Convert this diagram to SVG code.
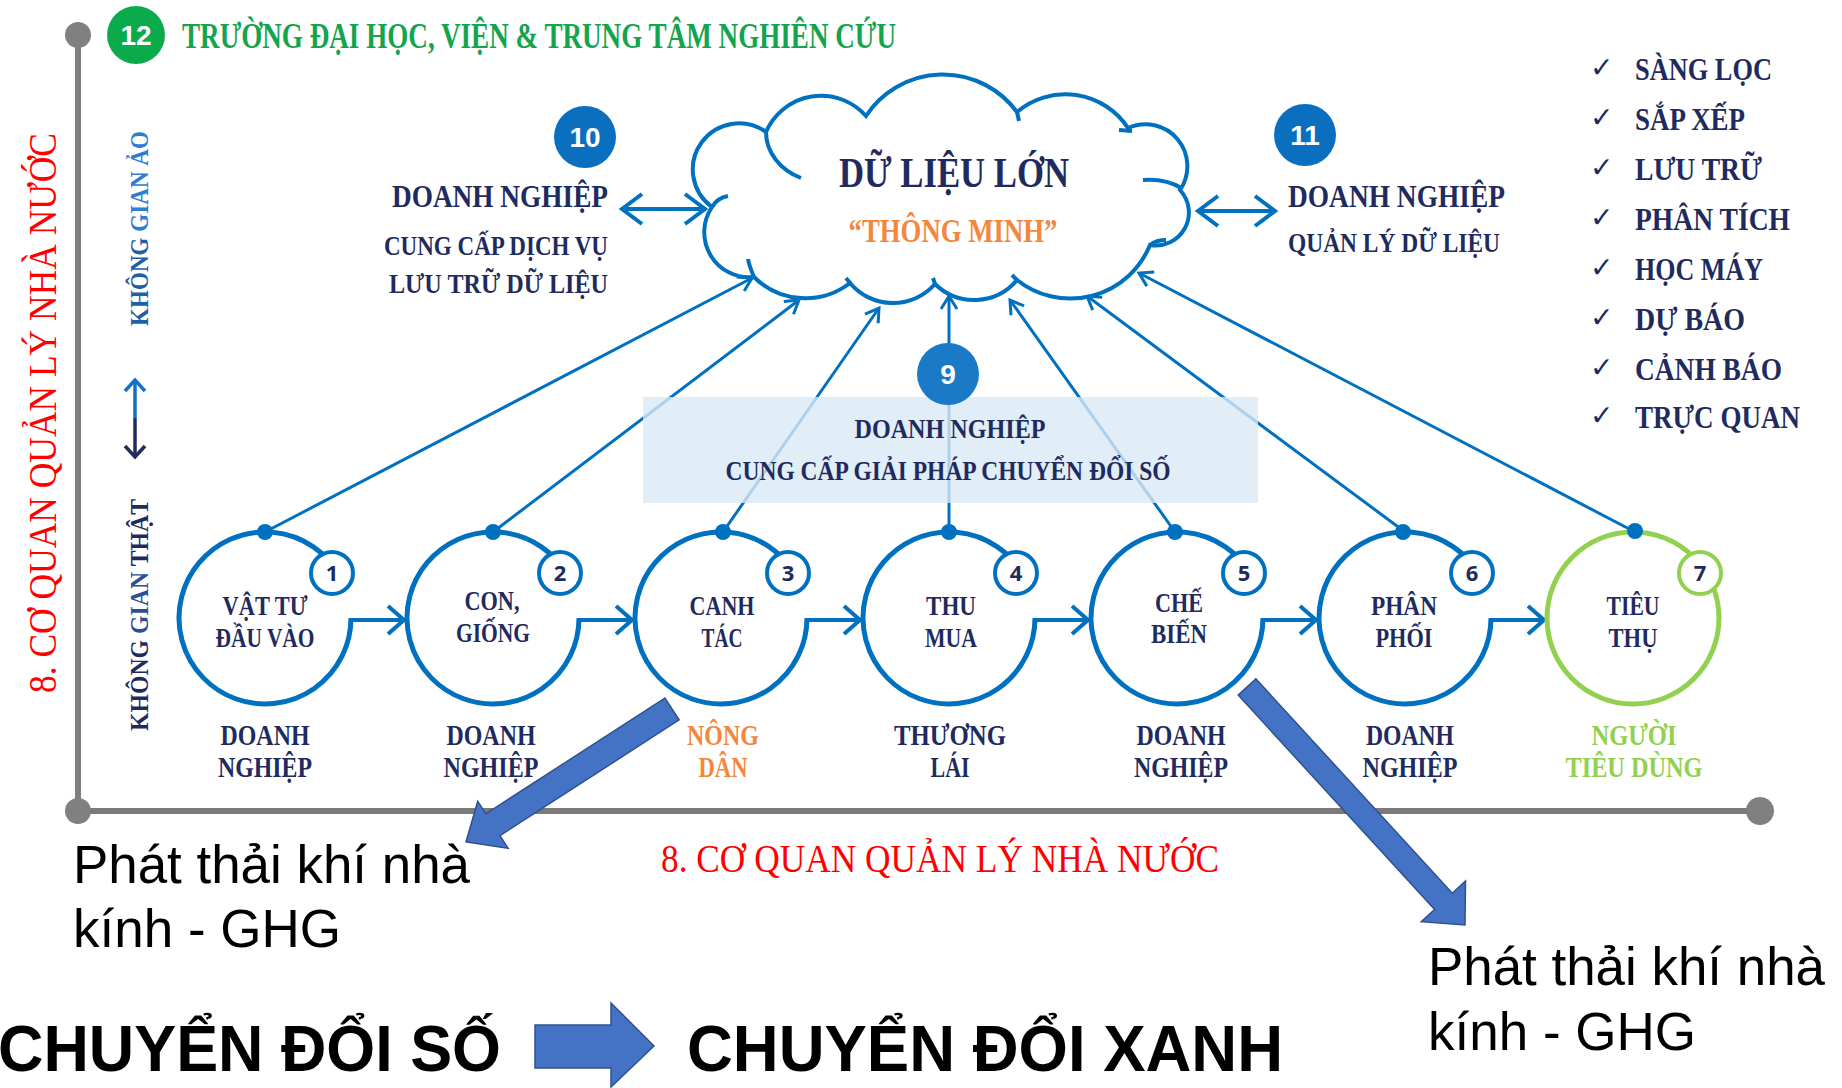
<svg xmlns="http://www.w3.org/2000/svg" width="1842" height="1088" viewBox="0 0 1842 1088">
<style>
.t{font-family:"Liberation Serif","DejaVu Serif",serif;font-weight:bold;fill:#1F2B5E;}
.m{text-anchor:middle;}
.s{font-family:"Liberation Sans",Arial,sans-serif;}
.ring{fill:none;stroke:#0070C0;stroke-width:5;}
.badge{fill:#fff;stroke:#0070C0;stroke-width:4;}
.num{font-family:"Open Sans","Liberation Sans",sans-serif;font-weight:bold;font-size:22px;fill:#1F2B5E;text-anchor:middle;}
.dot{fill:#0070C0;}
.conn{stroke:#0070C0;stroke-width:3;fill:none;}
.flow{stroke:#0070C0;stroke-width:4;fill:none;}
.blk{fill:#4472C4;stroke:#2F528F;stroke-width:1.5;}
.lab{font-size:29px;}
.in{font-size:27px;}
.chk{font-size:31px;}
</style>
<defs>
<marker id="ca" viewBox="-16 -12 20 24" refX="0" refY="0" markerWidth="20" markerHeight="24" markerUnits="userSpaceOnUse" orient="auto-start-reverse"><path d="M-13,-8 L0,0 L-13,8" fill="none" stroke="#0070C0" stroke-width="3"/></marker>
<marker id="fa" viewBox="-20 -18 26 36" refX="0" refY="0" markerWidth="26" markerHeight="36" markerUnits="userSpaceOnUse" orient="auto-start-reverse"><path d="M-16,-14 L0,0 L-16,14" fill="none" stroke="#0070C0" stroke-width="4"/></marker>
<marker id="da" viewBox="-24 -18 30 36" refX="0" refY="0" markerWidth="30" markerHeight="36" markerUnits="userSpaceOnUse" orient="auto-start-reverse"><path d="M-20,-15 L0,0 L-20,15" fill="none" stroke="#0070C0" stroke-width="4"/></marker>
<marker id="va" viewBox="-14 -14 18 28" refX="0" refY="0" markerWidth="18" markerHeight="28" markerUnits="userSpaceOnUse" orient="auto"><path d="M-11,-10 L0,0 L-11,10" fill="none" stroke="#1570C4" stroke-width="3.5"/></marker>
<marker id="vn" viewBox="-14 -14 18 28" refX="0" refY="0" markerWidth="18" markerHeight="28" markerUnits="userSpaceOnUse" orient="auto"><path d="M-11,-10 L0,0 L-11,10" fill="none" stroke="#1F2B5E" stroke-width="3.5"/></marker>
</defs>
<rect width="1842" height="1088" fill="#fff"/>

<g id="axes">
<line x1="78" y1="35" x2="78" y2="811" stroke="#808080" stroke-width="6"/>
<line x1="78" y1="811" x2="1760" y2="811" stroke="#7A7A7A" stroke-width="6"/>
<circle cx="78" cy="35" r="13" fill="#808080"/>
<circle cx="78" cy="811" r="13" fill="#808080"/>
<circle cx="1760" cy="811" r="14" fill="#808080"/>
</g>

<g id="node12">
<circle cx="136" cy="35" r="29" fill="#0BAA4B"/>
<text x="136" y="45" class="s" font-size="28" font-weight="bold" fill="#fff" text-anchor="middle">12</text>
<text x="182" y="48" class="t" font-size="35" style="fill:#14A44D" textLength="714" lengthAdjust="spacingAndGlyphs">TRƯỜNG ĐẠI HỌC, VIỆN &amp; TRUNG TÂM NGHIÊN CỨU</text>
</g>

<g id="side-labels">
<text transform="translate(56,693) rotate(-90)" class="t" font-size="41" style="fill:#FF0000;font-weight:normal" textLength="560" lengthAdjust="spacingAndGlyphs">8. CƠ QUAN QUẢN LÝ NHÀ NƯỚC</text>
<text transform="translate(148,326) rotate(-90)" class="t" font-size="26" textLength="195" lengthAdjust="spacingAndGlyphs"><tspan style="fill:#1F5FA8">KHÔNG </tspan><tspan style="fill:#2E7DD1">GIAN ẢO</tspan></text>
<text transform="translate(148,731) rotate(-90)" class="t" font-size="26" textLength="232" lengthAdjust="spacingAndGlyphs"><tspan>KHÔNG </tspan><tspan style="fill:#2A4F96">GIAN </tspan><tspan>THẬT</tspan></text>
<line x1="135" y1="418" x2="135" y2="380" stroke="#1570C4" stroke-width="3.5" marker-end="url(#va)"/>
<line x1="135" y1="418" x2="135" y2="457" stroke="#1F2B5E" stroke-width="3.5" marker-end="url(#vn)"/>
<text x="661" y="872" class="t" font-size="39" style="fill:#FF0000;font-weight:normal" textLength="558" lengthAdjust="spacingAndGlyphs">8. CƠ QUAN QUẢN LÝ NHÀ NƯỚC</text>
</g>

<g id="connectors">
<line class="conn" x1="265" y1="532" x2="752" y2="278" marker-end="url(#ca)"/>
<line class="conn" x1="493" y1="532" x2="799" y2="300" marker-end="url(#ca)"/>
<line class="conn" x1="723" y1="532" x2="879" y2="308" marker-end="url(#ca)"/>
<line class="conn" x1="949" y1="532" x2="949" y2="296" marker-end="url(#ca)"/>
<line class="conn" x1="1175" y1="532" x2="1010" y2="300" marker-end="url(#ca)"/>
<line class="conn" x1="1405" y1="532" x2="1087" y2="296" marker-end="url(#ca)"/>
<line class="conn" x1="1635" y1="532" x2="1139" y2="273" marker-end="url(#ca)"/>
<line class="flow" x1="622" y1="209" x2="705" y2="209" marker-start="url(#da)" marker-end="url(#da)"/>
<line class="flow" x1="1198" y1="211" x2="1275" y2="211" marker-start="url(#da)" marker-end="url(#da)"/>
<line class="flow" x1="350" y1="620" x2="404" y2="620" marker-end="url(#fa)"/>
<line class="flow" x1="578" y1="620" x2="632" y2="620" marker-end="url(#fa)"/>
<line class="flow" x1="806" y1="620" x2="860" y2="620" marker-end="url(#fa)"/>
<line class="flow" x1="1034" y1="620" x2="1088" y2="620" marker-end="url(#fa)"/>
<line class="flow" x1="1262" y1="620" x2="1316" y2="620" marker-end="url(#fa)"/>
<line class="flow" x1="1490" y1="620" x2="1544" y2="620" marker-end="url(#fa)"/>
</g>

<g id="cloud">
<path d="M712,207 A46,46 0 0 1 766,132 A60,60 0 0 1 866,116 A92,92 0 0 1 1017,112 A75,75 0 0 1 1128,128 A42,42 0 0 1 1180,190 A33,33 0 0 1 1150,245 A86,86 0 0 1 1017,280 A56,56 0 0 1 935,284 A56,56 0 0 1 850,283 A73,73 0 0 1 754,277 A45,45 0 0 1 712,207 Z" fill="#fff" stroke="#0070C0" stroke-width="4"/>
<path d="M766,132 C766,152 780,170 801,178 M712,207 C716,200 722,197 728,196 M1132,131 L1119,130 M1181,188 C1170,181 1157,179 1143,180 M1150,245 C1155,241 1160,240 1166,240 M1017,280 L1012,275 M754,277 C751,270 749,265 748,259 M935,284 L933,278 M850,283 L846,278 M1017,112 L1019,121" fill="none" stroke="#0070C0" stroke-width="4"/>
<text x="954" y="187" class="t m" font-size="42" textLength="230" lengthAdjust="spacingAndGlyphs">DỮ LIỆU LỚN</text>
<text x="953" y="242" class="t m" font-size="34" style="fill:#F4873B" textLength="209" lengthAdjust="spacingAndGlyphs">“THÔNG MINH”</text>
</g>

<g id="node10">
<circle cx="585" cy="137" r="31" fill="#0B6FBF"/>
<text x="585" y="147" class="s" font-size="28" font-weight="bold" fill="#fff" text-anchor="middle">10</text>
<text x="392" y="207" class="t" font-size="31" textLength="216" lengthAdjust="spacingAndGlyphs">DOANH NGHIỆP</text>
<text x="384" y="255" class="t" font-size="28" textLength="224" lengthAdjust="spacingAndGlyphs">CUNG CẤP DỊCH VỤ</text>
<text x="389" y="293" class="t" font-size="28" textLength="219" lengthAdjust="spacingAndGlyphs">LƯU TRỮ DỮ LIỆU</text>
</g>

<g id="node11">
<circle cx="1305" cy="135" r="31" fill="#0B6FBF"/>
<text x="1305" y="145" class="s" font-size="28" font-weight="bold" fill="#fff" text-anchor="middle">11</text>
<text x="1288" y="207" class="t" font-size="31" textLength="217" lengthAdjust="spacingAndGlyphs">DOANH NGHIỆP</text>
<text x="1288" y="252" class="t" font-size="28" textLength="212" lengthAdjust="spacingAndGlyphs">QUẢN LÝ DỮ LIỆU</text>
</g>

<g id="checklist">
<g font-family="DejaVu Sans,sans-serif" font-size="28" fill="#1F2B5E">
<text x="1590" y="77">✓</text><text x="1590" y="127">✓</text><text x="1590" y="177">✓</text><text x="1590" y="227">✓</text>
<text x="1590" y="277">✓</text><text x="1590" y="327">✓</text><text x="1590" y="377">✓</text><text x="1590" y="425">✓</text>
</g>
<text x="1635" y="80" class="t chk" textLength="137" lengthAdjust="spacingAndGlyphs">SÀNG LỌC</text>
<text x="1635" y="130" class="t chk" textLength="110" lengthAdjust="spacingAndGlyphs">SẮP XẾP</text>
<text x="1635" y="180" class="t chk" textLength="127" lengthAdjust="spacingAndGlyphs">LƯU TRỮ</text>
<text x="1635" y="230" class="t chk" textLength="155" lengthAdjust="spacingAndGlyphs">PHÂN TÍCH</text>
<text x="1635" y="280" class="t chk" textLength="128" lengthAdjust="spacingAndGlyphs">HỌC MÁY</text>
<text x="1635" y="330" class="t chk" textLength="110" lengthAdjust="spacingAndGlyphs">DỰ BÁO</text>
<text x="1635" y="380" class="t chk" textLength="147" lengthAdjust="spacingAndGlyphs">CẢNH BÁO</text>
<text x="1635" y="428" class="t chk" textLength="165" lengthAdjust="spacingAndGlyphs">TRỰC QUAN</text>
</g>

<g id="node9">
<rect x="643" y="397" width="615" height="106" fill="#DAE8F5" fill-opacity="0.8"/>
<circle cx="948" cy="374" r="31" fill="#1A7AC7"/>
<text x="948" y="384" class="s" font-size="28" font-weight="bold" fill="#fff" text-anchor="middle">9</text>
<text x="950" y="438" class="t m" font-size="28" textLength="191" lengthAdjust="spacingAndGlyphs">DOANH NGHIỆP</text>
<text x="948" y="480" class="t m" font-size="28" textLength="445" lengthAdjust="spacingAndGlyphs">CUNG CẤP GIẢI PHÁP CHUYỂN ĐỔI SỐ</text>
</g>

<g id="node1">
<path class="ring" d="M351,618 A86,86 0 1 1 339.5,575"/>
<circle class="dot" cx="265" cy="532" r="8"/>
<circle class="badge" cx="332" cy="573" r="21"/><text class="num" x="332" y="581">1</text>
<text x="265" y="615" class="t m in" textLength="85" lengthAdjust="spacingAndGlyphs">VẬT TƯ</text>
<text x="265" y="647" class="t m in" textLength="99" lengthAdjust="spacingAndGlyphs">ĐẦU VÀO</text>
<text x="265" y="745" class="t m lab" textLength="89" lengthAdjust="spacingAndGlyphs">DOANH</text>
<text x="265" y="777" class="t m lab" textLength="94" lengthAdjust="spacingAndGlyphs">NGHIỆP</text>
</g>
<g id="node2">
<path class="ring" d="M579,618 A86,86 0 1 1 567.5,575"/>
<circle class="dot" cx="493" cy="532" r="8"/>
<circle class="badge" cx="560" cy="573" r="21"/><text class="num" x="560" y="581">2</text>
<text x="492" y="610" class="t m in" textLength="55" lengthAdjust="spacingAndGlyphs">CON,</text>
<text x="493" y="642" class="t m in" textLength="74" lengthAdjust="spacingAndGlyphs">GIỐNG</text>
<text x="491" y="745" class="t m lab" textLength="89" lengthAdjust="spacingAndGlyphs">DOANH</text>
<text x="491" y="777" class="t m lab" textLength="95" lengthAdjust="spacingAndGlyphs">NGHIỆP</text>
</g>
<g id="node3">
<path class="ring" d="M807,618 A86,86 0 1 1 795.5,575"/>
<circle class="dot" cx="723" cy="532" r="8"/>
<circle class="badge" cx="788" cy="573" r="21"/><text class="num" x="788" y="581">3</text>
<text x="722" y="615" class="t m in" textLength="65" lengthAdjust="spacingAndGlyphs">CANH</text>
<text x="722" y="647" class="t m in" textLength="41" lengthAdjust="spacingAndGlyphs">TÁC</text>
<text x="723" y="745" class="t m lab" style="fill:#F4873B" textLength="72" lengthAdjust="spacingAndGlyphs">NÔNG</text>
<text x="723" y="777" class="t m lab" style="fill:#F4873B" textLength="49" lengthAdjust="spacingAndGlyphs">DÂN</text>
</g>
<g id="node4">
<path class="ring" d="M1035,618 A86,86 0 1 1 1023.5,575"/>
<circle class="dot" cx="949" cy="532" r="8"/>
<circle class="badge" cx="1016" cy="573" r="21"/><text class="num" x="1016" y="581">4</text>
<text x="951" y="615" class="t m in" textLength="50" lengthAdjust="spacingAndGlyphs">THU</text>
<text x="951" y="647" class="t m in" textLength="52" lengthAdjust="spacingAndGlyphs">MUA</text>
<text x="950" y="745" class="t m lab" textLength="112" lengthAdjust="spacingAndGlyphs">THƯƠNG</text>
<text x="950" y="777" class="t m lab" textLength="39" lengthAdjust="spacingAndGlyphs">LÁI</text>
</g>
<g id="node5">
<path class="ring" d="M1263,618 A86,86 0 1 1 1251.5,575"/>
<circle class="dot" cx="1175" cy="532" r="8"/>
<circle class="badge" cx="1244" cy="573" r="21"/><text class="num" x="1244" y="581">5</text>
<text x="1179" y="612" class="t m in" textLength="48" lengthAdjust="spacingAndGlyphs">CHẾ</text>
<text x="1179" y="643" class="t m in" textLength="56" lengthAdjust="spacingAndGlyphs">BIẾN</text>
<text x="1181" y="745" class="t m lab" textLength="89" lengthAdjust="spacingAndGlyphs">DOANH</text>
<text x="1181" y="777" class="t m lab" textLength="94" lengthAdjust="spacingAndGlyphs">NGHIỆP</text>
</g>
<g id="node6">
<path class="ring" d="M1491,618 A86,86 0 1 1 1479.5,575"/>
<circle class="dot" cx="1403" cy="532" r="8"/>
<circle class="badge" cx="1472" cy="573" r="21"/><text class="num" x="1472" y="581">6</text>
<text x="1404" y="615" class="t m in" textLength="66" lengthAdjust="spacingAndGlyphs">PHÂN</text>
<text x="1404" y="647" class="t m in" textLength="57" lengthAdjust="spacingAndGlyphs">PHỐI</text>
<text x="1410" y="745" class="t m lab" textLength="88" lengthAdjust="spacingAndGlyphs">DOANH</text>
<text x="1410" y="777" class="t m lab" textLength="95" lengthAdjust="spacingAndGlyphs">NGHIỆP</text>
</g>
<g id="node7">
<circle cx="1633" cy="618" r="86" fill="none" stroke="#92D050" stroke-width="5"/>
<circle class="dot" cx="1635" cy="531" r="8"/>
<circle cx="1700" cy="573" r="21" fill="#fff" stroke="#92D050" stroke-width="4"/><text class="num" x="1700" y="581">7</text>
<text x="1633" y="615" class="t m in" textLength="53" lengthAdjust="spacingAndGlyphs">TIÊU</text>
<text x="1633" y="647" class="t m in" textLength="49" lengthAdjust="spacingAndGlyphs">THỤ</text>
<text x="1634" y="745" class="t m lab" style="fill:#92D050" textLength="85" lengthAdjust="spacingAndGlyphs">NGƯỜI</text>
<text x="1634" y="777" class="t m lab" style="fill:#92D050" textLength="137" lengthAdjust="spacingAndGlyphs">TIÊU DÙNG</text>
</g>

<g id="emissions">
<polygon class="blk" points="664.9,698.1 485.9,813.8 477.7,801.2 466,842 508.1,848.2 500,835.6 679.1,719.9"/>
<polygon class="blk" points="1238.2,695.1 1434.6,909.5 1421.3,921.7 1465,925 1465.5,881.1 1452.3,893.3 1255.9,678.9"/>
<text x="73" y="883" class="s" font-size="53" fill="#000" textLength="397" lengthAdjust="spacingAndGlyphs">Phát thải khí nhà</text>
<text x="73" y="947" class="s" font-size="53" fill="#000" textLength="268" lengthAdjust="spacingAndGlyphs">kính - GHG</text>
<text x="1428" y="985" class="s" font-size="53" fill="#000" textLength="397" lengthAdjust="spacingAndGlyphs">Phát thải khí nhà</text>
<text x="1428" y="1050" class="s" font-size="53" fill="#000" textLength="268" lengthAdjust="spacingAndGlyphs">kính - GHG</text>
</g>

<g id="bottom">
<text x="-2" y="1071" class="s" font-size="64" font-weight="bold" fill="#000" textLength="503" lengthAdjust="spacingAndGlyphs">CHUYỂN ĐỔI SỐ</text>
<polygon class="blk" points="535,1025 611,1025 611,1003 654,1046 611,1087 611,1068 535,1068"/>
<text x="687" y="1071" class="s" font-size="64" font-weight="bold" fill="#000" textLength="596" lengthAdjust="spacingAndGlyphs">CHUYỂN ĐỔI XANH</text>
</g>
</svg>
